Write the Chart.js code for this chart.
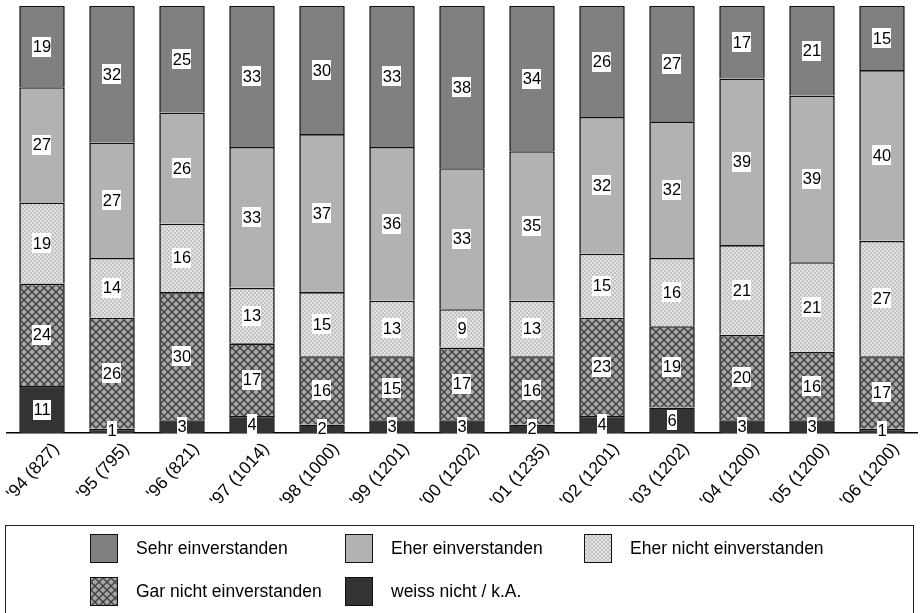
<!DOCTYPE html>
<html>
<head>
<meta charset="utf-8">
<script src="https://cdn.jsdelivr.net/npm/chart.js@4/dist/chart.umd.min.js"></script>
<style>
    body { margin: 0; background: #fff; }
    #wrap { position: relative; width: 920px; height: 613px; overflow: hidden; }
    #chart { position: absolute; left: 0; top: 0; }
    #legend {
        position: absolute; left: 5px; top: 525px; width: 909px; height: 120px;
        border: 1.5px solid #222; box-sizing: border-box;
        font-family: "Liberation Sans", Arial, sans-serif; font-size: 17.5px; color: #000;
    }
    .sw { position: absolute; width: 28px; height: 29px; border: 1.5px solid #111; box-sizing: border-box; }
    .lt { position: absolute; line-height: 20px; white-space: nowrap; }
</style>
</head>
<body>
<div id="wrap">
    <canvas id="chart" width="920" height="613"></canvas>
    <div id="legend"></div>
</div>
<script>
const years = ["'94 (827)", "'95 (795)", "'96 (821)", "'97 (1014)", "'98 (1000)", "'99 (1201)", "'00 (1202)",
    "'01 (1235)", "'02 (1201)", "'03 (1202)", "'04 (1200)", "'05 (1200)", "'06 (1200)"];

// stacked bottom -> top
const weissNicht    = [11, 1, 3, 4, 2, 3, 3, 2, 4, 6, 3, 3, 1];
const garNicht      = [24, 26, 30, 17, 16, 15, 17, 16, 23, 19, 20, 16, 17];
const eherNicht     = [19, 14, 16, 13, 15, 13, 9, 13, 15, 16, 21, 21, 27];
const eherEinv      = [27, 27, 26, 33, 37, 36, 33, 35, 32, 32, 39, 39, 40];
const sehrEinv      = [19, 32, 25, 33, 30, 33, 38, 34, 26, 27, 17, 21, 15];

const FONT = '"Liberation Sans", Arial, sans-serif';

function makeTile(rows, colors) {
    const c = document.createElement("canvas");
    c.width = rows[0].length;
    c.height = rows.length;
    const g = c.getContext("2d");
    rows.forEach((r, y) => {
        for (let x = 0; x < r.length; x++) {
            g.fillStyle = colors[r[x]];
            g.fillRect(x, y, 1, 1);
        }
    });
    return c;
}

// light dotted fill
const lightTile = makeTile([
    "AABB",
    "AABB",
    "BBAA",
    "BBAA"
], { A: "#e2e2e2", B: "#c2c2c2" });

// dark crosshatch fill
const darkTile = makeTile([
    "LLMDDMLL",
    "LMDMMDML",
    "MDMLLMDM",
    "DMLLLLMD",
    "DMLLLLMD",
    "MDMLLMDM",
    "LMDMMDML",
    "LLMDDMLL"
], { L: "#a6a6a6", M: "#747474", D: "#404040" });

const ctx = document.getElementById("chart").getContext("2d");
const lightPattern = ctx.createPattern(lightTile, "repeat");
const darkPattern = ctx.createPattern(darkTile, "repeat");

const series = [
    { label: "weiss nicht / k.A.", data: weissNicht, fill: "#333333" },
    { label: "Gar nicht einverstanden", data: garNicht, fill: darkPattern, css: "url(" + darkTile.toDataURL() + ")" },
    { label: "Eher nicht einverstanden", data: eherNicht, fill: lightPattern, css: "url(" + lightTile.toDataURL() + ")" },
    { label: "Eher einverstanden", data: eherEinv, fill: "#b2b2b2" },
    { label: "Sehr einverstanden", data: sehrEinv, fill: "#808080" }
];

// numbers in white boxes
const boxLabels = {
    id: "boxLabels",
    afterDatasetsDraw(chart) {
        const c = chart.ctx;
        c.save();
        c.font = "16.5px " + FONT;
        c.textAlign = "center";
        c.textBaseline = "middle";
        chart.data.datasets.forEach((ds, i) => {
            chart.getDatasetMeta(i).data.forEach((bar, j) => {
                const txt = String(ds.data[j]);
                const cy = (bar.y + bar.base) / 2;
                const w = c.measureText(txt).width + 1;
                c.fillStyle = "#fff";
                c.fillRect(Math.round(bar.x - w / 2), Math.round(cy - 10), Math.round(w), 20);
                c.fillStyle = "#000";
                c.fillText(txt, bar.x, cy + 1);
            });
        });
        c.restore();
    }
};

new Chart(ctx, {
    type: "bar",
    data: {
        labels: years,
        datasets: series.map(s => ({
            label: s.label,
            data: s.data,
            backgroundColor: s.fill,
            borderColor: "#111",
            borderWidth: 1.6,
            borderSkipped: "start",
            barPercentage: 0.65,
            categoryPercentage: 1
        }))
    },
    options: {
        responsive: false,
        animation: false,
        layout: { autoPadding: false, padding: { left: 7, right: 3, top: 6, bottom: 0 } },
        plugins: { legend: { display: false }, tooltip: { enabled: false } },
        scales: {
            x: {
                stacked: true,
                grid: { display: false, drawTicks: false },
                border: { display: true, color: "#000", width: 1.5 },
                ticks: {
                    autoSkip: false, minRotation: 48, maxRotation: 48,
                    color: "#000", font: { family: FONT, size: 17.5 },
                    labelOffset: 14, padding: 6
                },
                afterFit(scale) {
                    scale.height = 180;
                    scale.paddingLeft = 0;
                    scale.paddingRight = 0;
                }
            },
            y: { stacked: true, display: false, min: 0, max: 100 }
        }
    },
    plugins: [boxLabels]
});

// legend in the framed box
const legendPlaces = [
    { name: "Sehr einverstanden", x: 84, y: 8 },
    { name: "Eher einverstanden", x: 339, y: 8 },
    { name: "Eher nicht einverstanden", x: 578, y: 8 },
    { name: "Gar nicht einverstanden", x: 84, y: 51 },
    { name: "weiss nicht / k.A.", x: 339, y: 51 }
];
const legendEl = document.getElementById("legend");
legendPlaces.forEach(p => {
    const s = series.find(d => d.label === p.name);
    const sw = document.createElement("div");
    sw.className = "sw";
    sw.style.left = p.x + "px";
    sw.style.top = p.y + "px";
    if (s.css) sw.style.backgroundImage = s.css; else sw.style.background = s.fill;
    legendEl.appendChild(sw);
    const t = document.createElement("div");
    t.className = "lt";
    t.textContent = p.name;
    t.style.left = (p.x + 46) + "px";
    t.style.top = (p.y + 4) + "px";
    legendEl.appendChild(t);
});
</script>
</body>
</html>
